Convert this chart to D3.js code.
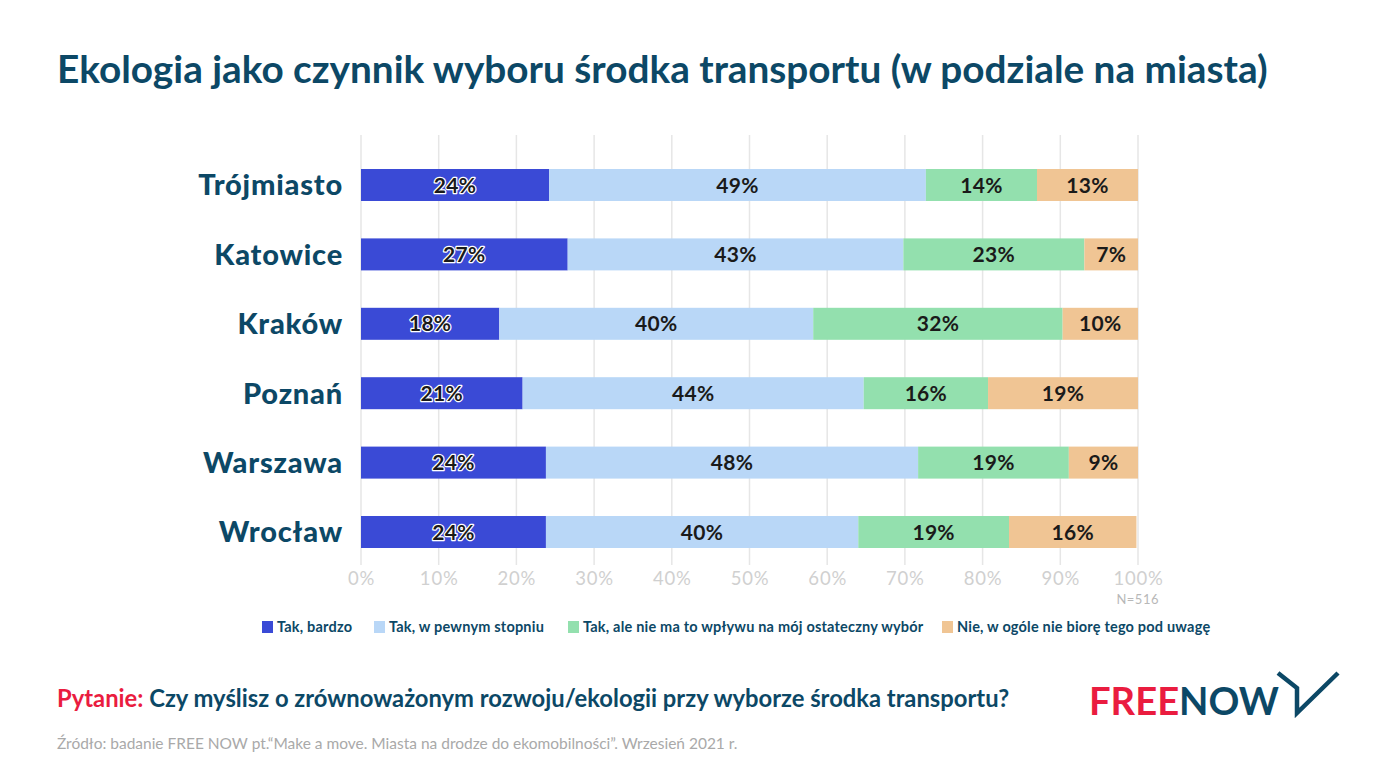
<!DOCTYPE html>
<html>
<head>
<meta charset="utf-8">
<script src="https://cdn.jsdelivr.net/npm/d3@7"></script>
<style>
  body { margin: 0; background: #fff; }
  svg { display: block; font-family: "Lato", "Noto Sans", sans-serif; }
</style>
</head>
<body>
<div id="chart"></div>
<script>
// data
let cities = ["Trójmiasto", "Katowice", "Kraków", "Poznań", "Warszawa", "Wrocław"];
let seriesNames = ["Tak, bardzo", "Tak, w pewnym stopniu", "Tak, ale nie ma to wpływu na mój ostateczny wybór", "Nie, w ogóle nie biorę tego pod uwagę"];
let takBardzo   = [24.2, 26.6, 17.8, 20.8, 23.8, 23.8];
let takPewnym   = [48.5, 43.2, 40.4, 43.9, 47.9, 40.2];
let takAleNie   = [14.3, 23.3, 32.1, 16.0, 19.4, 19.4];
let nieWOgole   = [13.0, 6.9, 9.7, 19.3, 8.9, 16.4];
let ticks = [0, 10, 20, 30, 40, 50, 60, 70, 80, 90, 100];

let colors = ["#3a4ad6", "#b9d7f7", "#93e0ae", "#f0c594"];
let teal = "#0c4866";

let width = 1386, height = 780;

let svg = d3.select("#chart")
  .append("svg")
  .attr("width", width)
  .attr("height", height);

// fit a text element to a target width by scaling its font size
function fit(sel, w) {
  let len = sel.node().getComputedTextLength();
  let fs = parseFloat(sel.attr("font-size"));
  sel.attr("font-size", fs * w / len);
}

// title
let title = svg.append("text")
  .attr("x", 57).attr("y", 83)
  .attr("font-size", 34)
  .attr("font-weight", 700)
  .attr("fill", teal)
  .text("Ekologia jako czynnik wyboru środka transportu (w podziale na miasta)");
fit(title, 1211);

let x = d3.scaleLinear().domain([0, 100]).range([361, 1138]);
let y = d3.scalePoint().domain(cities).range([185, 532]);
let barH = 32;

// grid
svg.append("g")
  .selectAll("line")
  .data(ticks)
  .join("line")
  .attr("x1", d => x(d)).attr("x2", d => x(d))
  .attr("y1", 135).attr("y2", 565)
  .attr("stroke", "#e6e6e6")
  .attr("stroke-width", 1.5);

// x axis labels
let xAxis = svg.append("g")
  .attr("transform", "translate(0,572)")
  .call(d3.axisBottom(x).tickValues(ticks).tickFormat(d => d + "%").tickSize(0).tickPadding(0));
xAxis.select(".domain").remove();
xAxis.selectAll("text")
  .attr("font-family", "Lato, sans-serif")
  .attr("font-size", 18.5)
  .attr("letter-spacing", 0.8)
  .attr("fill", "#d0d0d0")
  .attr("dy", "0.71em");

svg.append("text")
  .attr("x", 1159).attr("y", 604)
  .attr("text-anchor", "end")
  .attr("font-size", 13)
  .attr("letter-spacing", 0.5)
  .attr("fill", "#b8b8b8")
  .text("N=516");

// stacked data
let series = [takBardzo, takPewnym, takAleNie, nieWOgole];
let rows = cities.map((c, i) => {
  let r = { city: c };
  seriesNames.forEach((s, k) => r[s] = series[k][i]);
  return r;
});
let stack = d3.stack().keys(seriesNames)(rows);

let groups = svg.append("g")
  .selectAll("g")
  .data(stack)
  .join("g")
  .attr("fill", (d, i) => colors[i]);

groups.selectAll("rect")
  .data(d => d)
  .join("rect")
  .attr("x", d => x(d[0]))
  .attr("y", d => y(d.data.city) - barH / 2)
  .attr("width", d => x(d[1]) - x(d[0]))
  .attr("height", barH);

// value labels
stack.forEach((layer, k) => {
  let lab = svg.append("g").selectAll("text")
    .data(layer)
    .join("text")
    .attr("x", d => (x(d[0]) + x(d[1])) / 2)
    .attr("y", d => y(d.data.city))
    .attr("dy", "0.36em")
    .attr("text-anchor", "middle")
    .attr("font-size", 21)
    .attr("font-weight", 700)
    .attr("letter-spacing", 0.3)
    .attr("fill", "#1a1a1a")
    .text(d => Math.round(d[1] - d[0]) + "%");
  if (k == 0) {
    lab.attr("stroke", "#ffffff")
      .attr("stroke-width", 2.5)
      .attr("paint-order", "stroke")
      .attr("stroke-linejoin", "round");
  }
});

// city labels
svg.append("g")
  .selectAll("text")
  .data(cities)
  .join("text")
  .attr("x", 343)
  .attr("y", d => y(d))
  .attr("dy", "0.36em")
  .attr("text-anchor", "end")
  .attr("font-size", 29)
  .attr("font-weight", 900)
  .attr("letter-spacing", 0.8)
  .attr("fill", teal)
  .text(d => d);

// legend
let legendX = [262, 374, 568, 942];
let legend = svg.append("g")
  .selectAll("g")
  .data(seriesNames)
  .join("g")
  .attr("transform", (d, i) => `translate(${legendX[i]}, 627)`);
legend.append("rect")
  .attr("x", 0).attr("y", -6)
  .attr("width", 11).attr("height", 12)
  .attr("fill", (d, i) => colors[i]);
legend.append("text")
  .attr("x", 15)
  .attr("dy", "0.36em")
  .attr("font-size", 14.5)
  .attr("font-weight", 700)
  .attr("letter-spacing", 0.2)
  .attr("fill", teal)
  .text(d => d);

// question
let q = svg.append("text")
  .attr("x", 57).attr("y", 707)
  .attr("font-size", 20)
  .attr("font-weight", 700);
q.append("tspan").attr("fill", "#ea1c3f").text("Pytanie: ");
q.append("tspan").attr("fill", teal).text("Czy myślisz o zrównoważonym rozwoju/ekologii przy wyborze środka transportu?");
fit(q, 953);

// source
let src = svg.append("text")
  .attr("x", 57).attr("y", 749)
  .attr("font-size", 13)
  .attr("fill", "#a9a9a9")
  .text("Źródło: badanie FREE NOW pt.“Make a move. Miasta na drodze do ekomobilności”. Wrzesień 2021 r.");
fit(src, 681);

// logo
let logo = svg.append("text")
  .attr("x", 1089).attr("y", 715)
  .attr("font-size", 37)
  .attr("font-weight", 700);
logo.append("tspan").attr("fill", "#ea1c3f").text("FREE");
logo.append("tspan").attr("fill", teal).text("NOW");
fit(logo, 190);

svg.append("path")
  .attr("d", "M1278,673 L1297,688 L1297,713 L1338,673")
  .attr("fill", "none")
  .attr("stroke", teal)
  .attr("stroke-width", 4.5)
  .attr("stroke-linejoin", "miter");
</script>
</body>
</html>
